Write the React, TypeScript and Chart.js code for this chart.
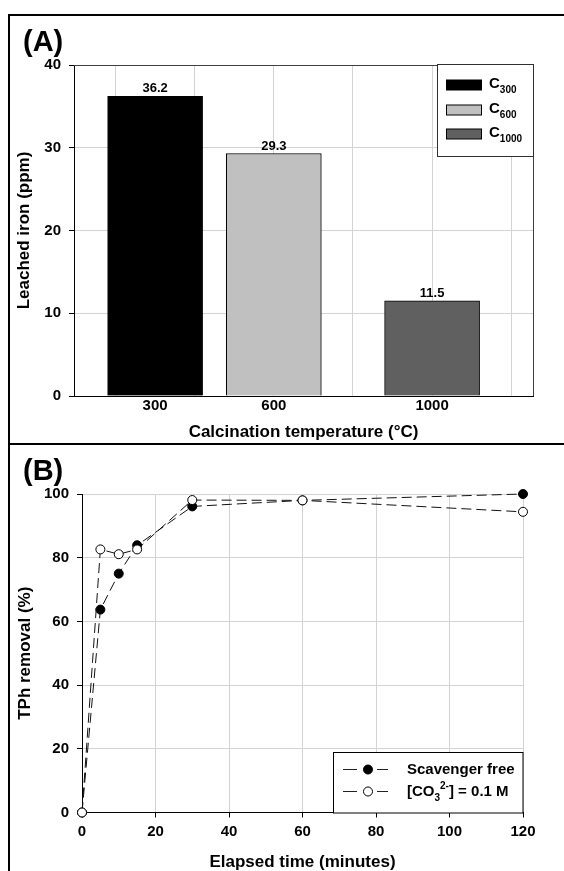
import React, { useEffect, useRef } from 'react';
import { Chart, registerables } from 'chart.js';

Chart.register(...registerables);

const FONT = '"Liberation Sans", Arial, Helvetica, sans-serif';
const GRID = '#d3d3d3';
const CLEAR = 'rgba(0,0,0,0)';

// ---------- Panel (A): leached iron vs calcination temperature ----------
const calcinationTemps = [300, 600, 1000];
const leachedIron = [36.2, 29.3, 11.5];
const sampleSubscripts = ['300', '600', '1000']; // legend: C300, C600, C1000
const tempGridValues = [200, 400, 600, 800, 1000, 1200];
const ironTickValues = [0, 10, 20, 30, 40];
const barColors = ['#000000', '#c0c0c0', '#606060'];

// ---------- Panel (B): TPh removal vs elapsed time ----------
const elapsedMinutes = [0, 5, 10, 15, 30, 60, 120];
const removalScavengerFree = [0, 63.7, 75.0, 83.9, 96.1, 98.0, 100.0];
const removalCarbonate = [0, 82.6, 81.1, 82.6, 98.1, 98.0, 94.4];
const timeTickValues = [0, 20, 40, 60, 80, 100, 120];
const removalTickValues = [0, 20, 40, 60, 80, 100];
const seriesNameB1 = 'Scavenger free';
// rich text parts: [text, kind] kind: n = normal, sub, sup
const seriesNameB2: [string, string][] = [['[CO', 'n'], ['3', 'sub'], ['2-', 'sup'], ['] = 0.1 M', 'n']];

const tickFont = { family: FONT, size: 15, weight: 'bold' as const };
const titleFont = { family: FONT, size: 17, weight: 'bold' as const, lineHeight: 1 };

function drawRich(ctx: CanvasRenderingContext2D, parts: [string, string][], x: number, y: number, size: number) {
  let cx = x;
  for (const [t, kind] of parts) {
    const s = kind === 'n' ? size : Math.round(size * 0.67);
    const dy = kind === 'sub' ? 5 : kind === 'sup' ? -7 : 0;
    ctx.font = `bold ${s}px ${FONT}`;
    ctx.fillText(t, cx, y + dy);
    cx += ctx.measureText(t).width;
  }
}

const panelAPlugin = {
  id: 'panelA',
  afterDatasetsDraw(chart: any) {
    const ctx: CanvasRenderingContext2D = chart.ctx;
    const meta = chart.getDatasetMeta(0);
    ctx.save();
    ctx.font = `bold 13px ${FONT}`;
    ctx.fillStyle = '#000';
    ctx.textAlign = 'center';
    ctx.textBaseline = 'alphabetic';
    meta.data.forEach((el: any, i: number) => {
      ctx.fillText(leachedIron[i].toFixed(1), el.x, el.y - 4);
    });
    ctx.restore();
  },
  afterDraw(chart: any) {
    const ctx: CanvasRenderingContext2D = chart.ctx;
    const a = chart.chartArea;
    ctx.save();
    // top and right frame of plot
    ctx.strokeStyle = '#404040';
    ctx.lineWidth = 1;
    ctx.beginPath();
    ctx.moveTo(a.left, Math.round(a.top) + 0.5);
    ctx.lineTo(Math.round(a.right) + 0.5, Math.round(a.top) + 0.5);
    ctx.lineTo(Math.round(a.right) + 0.5, a.bottom);
    ctx.stroke();

    // legend box
    const bx = 437.5, by = Math.round(a.top) - 0.5, bw = Math.round(a.right) - 437, bh = 92;
    ctx.fillStyle = '#fff';
    ctx.fillRect(bx, by, bw, bh);
    ctx.strokeStyle = '#303030';
    ctx.strokeRect(bx, by, bw, bh);
    const rows = [85, 110, 134];
    sampleSubscripts.forEach((sub, i) => {
      const cy = rows[i];
      ctx.fillStyle = barColors[i];
      ctx.fillRect(446.5, cy - 5, 35, 10);
      ctx.strokeStyle = '#000';
      ctx.strokeRect(446.5, cy - 5, 35, 10);
      ctx.fillStyle = '#000';
      ctx.textAlign = 'left';
      ctx.textBaseline = 'alphabetic';
      ctx.font = `bold 15px ${FONT}`;
      ctx.fillText('C', 489, cy + 3);
      const w = ctx.measureText('C').width;
      ctx.font = `bold 10px ${FONT}`;
      ctx.fillText(sub, 489 + w, cy + 8);
    });

    // panel letter
    ctx.fillStyle = '#000';
    ctx.font = `bold 29px ${FONT}`;
    ctx.textAlign = 'left';
    ctx.textBaseline = 'alphabetic';
    ctx.fillText('(A)', 23, 51);
    ctx.restore();
  },
};

const panelBPlugin = {
  id: 'panelB',
  afterDraw(chart: any) {
    const ctx: CanvasRenderingContext2D = chart.ctx;
    const a = chart.chartArea;
    ctx.save();
    const right = Math.round(a.right);
    const bottom = Math.round(a.bottom);
    const bx = 333.5, by = 308.5;
    ctx.fillStyle = '#fff';
    ctx.fillRect(bx, by, right - bx, bottom - by);
    ctx.strokeStyle = '#000';
    ctx.lineWidth = 1;
    ctx.strokeRect(bx, by, right - bx, bottom - by);

    const rows = [325, 347];
    rows.forEach((cy, i) => {
      ctx.strokeStyle = '#222';
      ctx.lineWidth = 1;
      ctx.beginPath();
      ctx.moveTo(343, cy + 0.5);
      ctx.lineTo(357, cy + 0.5);
      ctx.moveTo(377, cy + 0.5);
      ctx.lineTo(388, cy + 0.5);
      ctx.stroke();
      ctx.beginPath();
      ctx.arc(368, cy + 0.5, 4.5, 0, Math.PI * 2);
      ctx.fillStyle = i === 0 ? '#000' : '#fff';
      ctx.fill();
      ctx.strokeStyle = '#000';
      ctx.stroke();
    });
    ctx.fillStyle = '#000';
    ctx.textAlign = 'left';
    ctx.textBaseline = 'alphabetic';
    ctx.font = `bold 15px ${FONT}`;
    ctx.fillText(seriesNameB1, 407, rows[0] + 5);
    drawRich(ctx, seriesNameB2, 407, rows[1] + 5, 15);

    ctx.font = `bold 29px ${FONT}`;
    ctx.fillText('(B)', 23, 36);
    ctx.restore();
  },
};

export default function App() {
  const refA = useRef<HTMLCanvasElement>(null);
  const refB = useRef<HTMLCanvasElement>(null);

  useEffect(() => {
    Chart.defaults.color = '#000';
    Chart.defaults.font.family = FONT;

    const xTicksA = Array.from(new Set([...tempGridValues, ...calcinationTemps])).sort((p, q) => p - q);

    const chartA = new Chart(refA.current as HTMLCanvasElement, {
      type: 'bar',
      data: {
        datasets: [
          {
            label: 'Leached iron',
            data: calcinationTemps.map((t, i) => ({ x: t, y: leachedIron[i] })) as any,
            backgroundColor: barColors,
            borderColor: '#000',
            borderWidth: 1,
            barThickness: 95,
          },
        ],
      },
      options: {
        animation: false,
        responsive: false,
        maintainAspectRatio: false,
        layout: { padding: { top: 65, right: 31, left: 0, bottom: 0 } },
        plugins: { legend: { display: false }, tooltip: { enabled: false } },
        scales: {
          x: {
            type: 'linear',
            min: 95,
            max: 1255,
            offset: false,
            afterBuildTicks: (s: any) => {
              s.ticks = xTicksA.map((v) => ({ value: v }));
            },
            afterFit: (s: any) => {
              s.height = 48;
            },
            grid: {
              offset: false,
              drawTicks: false,
              color: (c: any) => (c.tick && tempGridValues.includes(c.tick.value) ? GRID : CLEAR),
            },
            border: { color: '#000', width: 1 },
            ticks: {
              autoSkip: false,
              maxRotation: 0,
              font: tickFont,
              color: '#000',
              padding: 1,
              callback: (v: any) => (calcinationTemps.includes(Number(v)) ? String(v) : ''),
            },
            title: {
              display: true,
              text: 'Calcination temperature (°C)',
              font: titleFont,
              color: '#000',
              padding: { top: 0, bottom: 3.5 },
            },
          },
          y: {
            min: 0,
            max: 40,
            afterBuildTicks: (s: any) => {
              s.ticks = ironTickValues.map((v) => ({ value: v }));
            },
            afterFit: (s: any) => {
              s.width = 74;
            },
            grid: {
              color: (c: any) => (c.tick && (c.tick.value === 0 || c.tick.value === 40) ? CLEAR : GRID),
              tickColor: '#000',
              tickLength: 5,
            },
            border: { color: '#000', width: 1 },
            ticks: { font: tickFont, color: '#000', padding: 8 },
            title: {
              display: true,
              text: 'Leached iron (ppm)',
              font: titleFont,
              color: '#000',
              padding: { top: 15.5, bottom: 0 },
            },
          },
        },
      } as any,
      plugins: [panelAPlugin],
    });

    const chartB = new Chart(refB.current as HTMLCanvasElement, {
      type: 'line',
      data: {
        datasets: [
          {
            label: seriesNameB1,
            data: elapsedMinutes.map((t, i) => ({ x: t, y: removalScavengerFree[i] })),
            borderColor: '#111',
            borderWidth: 1,
            borderDash: [10, 5],
            pointRadius: 4.5,
            pointBackgroundColor: '#000',
            pointBorderColor: '#000',
            pointBorderWidth: 1,
            fill: false,
            tension: 0,
            order: 2,
            clip: false,
          },
          {
            label: seriesNameB2.map((p) => p[0]).join(''),
            data: elapsedMinutes.map((t, i) => ({ x: t, y: removalCarbonate[i] })),
            borderColor: '#111',
            borderWidth: 1,
            borderDash: [10, 5],
            pointRadius: 4.5,
            pointBackgroundColor: '#fff',
            pointBorderColor: '#000',
            pointBorderWidth: 1,
            fill: false,
            tension: 0,
            order: 1,
            clip: false,
          },
        ],
      },
      options: {
        animation: false,
        responsive: false,
        maintainAspectRatio: false,
        layout: { padding: { top: 50, right: 41, left: 0, bottom: 0 } },
        plugins: { legend: { display: false }, tooltip: { enabled: false } },
        scales: {
          x: {
            type: 'linear',
            min: 0,
            max: 120,
            afterBuildTicks: (s: any) => {
              s.ticks = timeTickValues.map((v) => ({ value: v }));
            },
            afterFit: (s: any) => {
              s.height = 58.5;
            },
            grid: {
              color: (c: any) => (c.tick && c.tick.value === 0 ? CLEAR : GRID),
              tickColor: '#000',
              tickLength: 5,
            },
            border: { color: '#000', width: 1 },
            ticks: { autoSkip: false, maxRotation: 0, font: tickFont, color: '#000', padding: 5.5 },
            title: {
              display: true,
              text: 'Elapsed time (minutes)',
              font: titleFont,
              color: '#000',
              padding: { top: 0, bottom: 0 },
            },
          },
          y: {
            min: 0,
            max: 100,
            afterBuildTicks: (s: any) => {
              s.ticks = removalTickValues.map((v) => ({ value: v }));
            },
            afterFit: (s: any) => {
              s.width = 82;
            },
            grid: {
              color: (c: any) => (c.tick && c.tick.value === 0 ? CLEAR : GRID),
              tickColor: '#000',
              tickLength: 5,
            },
            border: { color: '#000', width: 1 },
            ticks: { font: tickFont, color: '#000', padding: 8 },
            title: {
              display: true,
              text: 'TPh removal (%)',
              font: titleFont,
              color: '#000',
              padding: { top: 16.5, bottom: 0 },
            },
          },
        },
      } as any,
      plugins: [panelBPlugin],
    });

    return () => {
      chartA.destroy();
      chartB.destroy();
    };
  }, []);

  return (
    <div
      style={{
        position: 'fixed',
        left: 0,
        top: 0,
        width: 564,
        height: 871,
        background: '#fff',
        overflow: 'hidden',
      }}
    >
      <canvas
        ref={refA}
        width={564}
        height={444}
        style={{ position: 'absolute', left: 0, top: 0, width: 564, height: 444, display: 'block' }}
      />
      <canvas
        ref={refB}
        width={564}
        height={427}
        style={{ position: 'absolute', left: 0, top: 444, width: 564, height: 427, display: 'block' }}
      />
      <div style={{ position: 'absolute', left: 8, top: 14, width: 2, height: 857, background: '#000' }} />
      <div style={{ position: 'absolute', left: 8, top: 14, width: 556, height: 2, background: '#000' }} />
      <div style={{ position: 'absolute', left: 8, top: 443, width: 556, height: 2, background: '#000' }} />
    </div>
  );
}
